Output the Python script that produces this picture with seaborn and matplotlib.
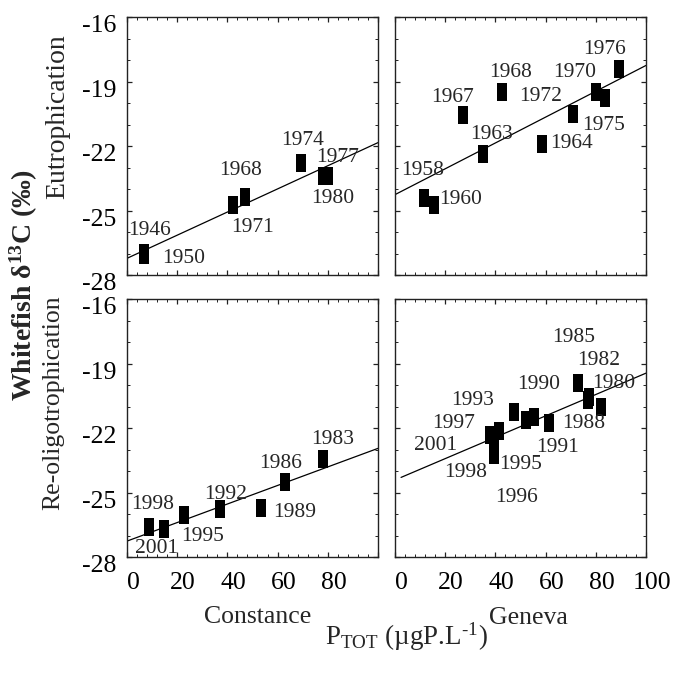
import matplotlib
matplotlib.use("Agg")
import matplotlib.pyplot as plt
import matplotlib.ticker as mticker
from matplotlib.transforms import ScaledTranslation
import pandas as pd
import seaborn as sns

# Constance, eutrophication
con_eu_year = [1946, 1950, 1968, 1971, 1974, 1977, 1980]
con_eu_p = [6.8, 6.8, 42.1, 47.1, 69.2, 78.1, 79.9]
con_eu_d13c = [-26.98, -27.08, -24.73, -24.39, -22.81, -23.41, -23.41]

# Geneva, eutrophication
gen_eu_year = [1958, 1960, 1963, 1964, 1967, 1968, 1970, 1972, 1975, 1976]
gen_eu_p = [11.6, 15.7, 34.9, 58.7, 27.2, 42.5, 80.1, 70.8, 83.7, 89.4]
gen_eu_d13c = [-24.43, -24.74, -22.37, -21.9, -20.56, -19.49, -19.51, -20.53, -19.75, -18.41]

# Constance, re-oligotrophication
con_re_year = [1983, 1986, 1989, 1992, 1995, 1998, 2001]
con_re_p = [78.1, 62.9, 53.2, 36.9, 22.9, 8.9, 14.9]
con_re_d13c = [-23.42, -24.5, -25.74, -25.79, -26.05, -26.62, -26.72]

# Geneva, re-oligotrophication
gen_re_year = [1980, 1982, 1985, 1988, 1990, 1991, 1993, 1995, 1996, 1997, 1998, 2001]
gen_re_p = [82.2, 77.3, 73.0, 76.8, 55.5, 61.4, 47.4, 52.1, 39.3, 41.4, 39.3, 38.0]
gen_re_d13c = [-21.0, -20.58, -19.9, -20.7, -21.51, -21.78, -21.27, -21.62, -23.25, -22.15, -22.93, -22.34]

# where each year label sits (data coords), same order as the years above
con_eu_lab = [(8.9, -25.95), (22.5, -27.22), (45.2, -23.13), (50.0, -25.79), (69.9, -21.75), (83.9, -22.55), (81.9, -24.44)]
gen_eu_lab = [(11.0, -23.13), (26.2, -24.48), (38.4, -21.47), (70.5, -21.88), (23.1, -19.73), (46.0, -18.57),
              (71.4, -18.57), (57.9, -19.69), (83.3, -21.04), (83.3, -17.51)]
con_re_lab = [(81.9, -22.53), (61.2, -23.63), (67.0, -25.93), (39.2, -25.1), (30.1, -27.05), (10.1, -25.55), (11.9, -27.61)]
gen_re_lab = [(87.0, -19.94), (81.1, -18.86), (71.2, -17.81), (75.1, -21.81), (57.3, -19.98), (64.6, -22.9),
              (30.8, -20.72), (50.1, -23.68), (48.4, -25.23), (23.5, -21.81), (28.2, -24.07), (16.3, -22.82)]

y_ticks = [-28, -25, -22, -19, -16]
x_ticks = [0, 20, 40, 60, 80, 100]

sns.set_style("ticks")
plt.rcParams["font.family"] = ["Liberation Serif", "DejaVu Serif"]
plt.rcParams["mathtext.fontset"] = "custom"
plt.rcParams["mathtext.rm"] = "Liberation Serif"
plt.rcParams["mathtext.it"] = "Liberation Serif:italic"
plt.rcParams["mathtext.bf"] = "Liberation Serif:bold"
plt.rcParams["axes.unicode_minus"] = False

fig, axes = plt.subplots(2, 2, figsize=(6.78, 6.75), dpi=100)
plt.subplots_adjust(left=0.1873, right=0.9528, bottom=0.1748, top=0.9748, wspace=0.068, hspace=0.093)

rect = [(-0.28, -0.5), (0.28, -0.5), (0.28, 0.5), (-0.28, 0.5), (-0.28, -0.5)]

panels = [
    (axes[0, 0], con_eu_year, con_eu_p, con_eu_d13c, con_eu_lab, 0.0),
    (axes[0, 1], gen_eu_year, gen_eu_p, gen_eu_d13c, gen_eu_lab, 0.0),
    (axes[1, 0], con_re_year, con_re_p, con_re_d13c, con_re_lab, 0.0),
    (axes[1, 1], gen_re_year, gen_re_p, gen_re_d13c, gen_re_lab, 2.4),
]

for ax, years, p, d13c, labs, fit_start in panels:
    df = pd.DataFrame({"year": years, "p": p, "d13c": d13c})
    ax.set_xlim(fit_start, 100)
    ax.set_ylim(-28, -16)
    sns.regplot(data=df, x="p", y="d13c", ax=ax, ci=None, truncate=False, marker=rect,
                color="black",
                scatter_kws={"s": 155, "alpha": 1, "linewidths": 0},
                line_kws={"lw": 0.9, "color": "black"})
    for yr, (tx, ty) in zip(years, labs):
        ax.text(tx, ty, str(yr), fontsize=15.5, ha="center", va="center")
    ax.set_xlim(0, 100)
    ax.set_ylim(-28, -16)
    ax.set_xlabel("")
    ax.set_ylabel("")
    ax.xaxis.set_minor_locator(mticker.MultipleLocator(4))
    ax.yaxis.set_minor_locator(mticker.MultipleLocator(1))
    ax.tick_params(which="both", direction="in", top=True, right=True, colors="#222222", labelcolor="black")
    ax.tick_params(which="major", length=3.5, width=0.9)
    ax.tick_params(which="minor", length=2, width=0.7)
    ax.tick_params(axis="x", labelsize=18.5, pad=11)
    ax.tick_params(axis="y", labelsize=18.5, pad=8)
    for s in ax.spines.values():
        s.set_linewidth(1.0)
        s.set_color("#222222")

for ax in axes.flat:
    ax.set_yticks(y_ticks)
    ax.set_xticks(x_ticks)

axes[0, 0].set_yticklabels([str(v) for v in y_ticks])
axes[1, 0].set_yticklabels([str(v) for v in y_ticks])
axes[0, 1].set_yticklabels([])
axes[1, 1].set_yticklabels([])
axes[0, 0].set_xticklabels([])
axes[0, 1].set_xticklabels([])
axes[1, 0].set_xticklabels([str(v) for v in x_ticks[:-1]] + [""])
axes[1, 1].set_xticklabels([str(v) for v in x_ticks])

# the original tick labels sit a few pixels right / below their ticks
dx = ScaledTranslation(0.06, 0, fig.dpi_scale_trans)
dy = ScaledTranslation(0, -0.065, fig.dpi_scale_trans)
for ax in axes.flat:
    for t in ax.xaxis.get_major_ticks():
        t.label1.set_transform(t.label1.get_transform() + dx)
    for t in ax.yaxis.get_major_ticks():
        t.label1.set_transform(t.label1.get_transform() + dy)

fig.text(0.0355, 0.578, r"Whitefish δ$^{\mathbf{13}}$C (‰)", rotation=90, fontsize=20,
         fontweight="bold", ha="center", va="center")
fig.text(0.0855, 0.827, "Eutrophication", rotation=90, fontsize=20, ha="center", va="center")
fig.text(0.078, 0.404, "Re-oligotrophication", rotation=90, fontsize=18.5, ha="center", va="center")
fig.text(0.3805, 0.0859, "Constance", fontsize=18.5, ha="center", va="center")
fig.text(0.780, 0.0844, "Geneva", fontsize=18.5, ha="center", va="center")
fig.text(0.60, 0.057, "P$_{\\mathrm{TOT}}$ (µgP.L$^{\\mathrm{\u20101}}$)", fontsize=19.5, ha="center", va="center")

fig.savefig("out.png", dpi=100)
